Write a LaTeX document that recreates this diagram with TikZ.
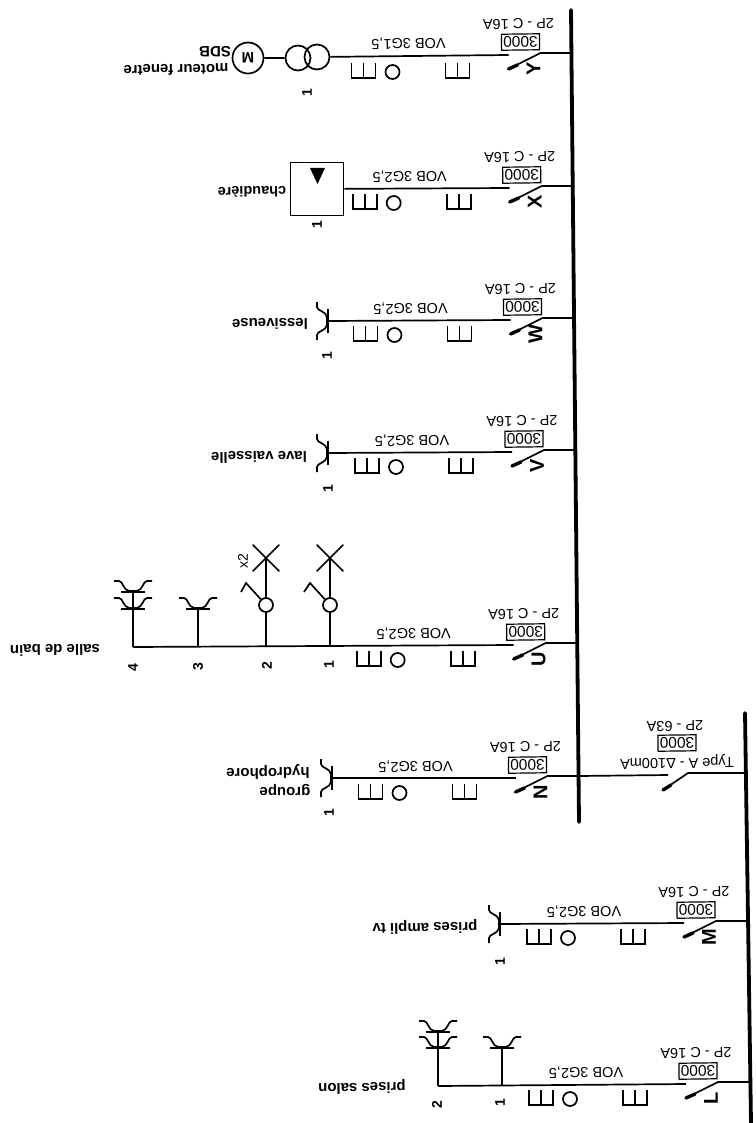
\documentclass[tikz,border=0pt]{standalone}
\usepackage{fontspec}
\setmainfont{Liberation Sans}
\usetikzlibrary{shapes,positioning,calc}

\tikzset{
    wire/.style={line width=1.7pt},
    flip/.style={rotate=180.7, inner sep=0pt, font=\fontsize{14.5}{16}\selectfont},
    loadlabel/.style={flip, font=\fontsize{15}{17}\selectfont\bfseries},
    tag/.style={rotate=90, inner sep=0pt, font=\fontsize{20}{22}\selectfont\bfseries},
    numlabel/.style={rotate=90, inner sep=0pt, font=\fontsize{14}{16}\selectfont\bfseries},
    ratebox/.style={flip, draw, line width=1.2pt, minimum width=38pt, minimum height=16pt, font=\fontsize{15.5}{17}\selectfont},
    socket/.pic={
        \draw [wire] (-19, -11) -- (-14, -11) .. controls (-10, -11) and (-10, -2) .. (-4, -1)
            -- (4, -1) .. controls (10, -2) and (10, -11) .. (14, -11) -- (19, -11);
        \draw [wire] (-12, 0) -- (12, 0);
    },
    comb/.pic={
        \draw [wire] (-12, -15) -- (-12, 0) -- (12, 0) -- (12, -15);
        \draw [wire] (0, -15) -- (0, 0);
    },
    lamp/.style={cross out, draw, wire, minimum size=25pt, inner sep=0pt},
    dimmer/.style={circle, draw, wire, minimum size=14pt, inner sep=0pt}
}

\begin{document}
\begin{tikzpicture}[x=1pt, y=-1pt]
    \useasboundingbox (0, 0) rectangle (755, 1123);

    % Main bars
    \coordinate (barAtop) at (571, 10);
    \coordinate (barAend) at (579, 822);
    \coordinate (barBtop) at (745, 713);
    \coordinate (barBend) at (751, 1123);
    \draw [line width=3.8pt, line cap=round] (barAtop) -- (barAend);
    \draw [line width=3.8pt, line cap=round] (barBtop) -- (barBend);

    % Ends of the feeders
    \node [circle, draw, wire, minimum size=25pt, inner sep=0pt] (endY) at (317, 57) {};
    \node [draw, wire, minimum size=53pt, inner sep=0pt] (endX) at (317, 189) {};
    \coordinate (endW) at (328, 321);
    \coordinate (endV) at (328, 453);
    \coordinate (endU) at (133, 647);
    \coordinate (endN) at (332, 778);
    \coordinate (endM) at (500, 924);
    \coordinate (endL) at (438, 1086);

    % Feeders
    \foreach \fd/\bx/\by/\dr/\cb in {Y/571.5/53/2/{VOB 3G1,5}, X/572.7/186/0/{VOB 3G2,5}, W/573.5/318/0/{VOB 3G2,5},
        V/575/450/0/{VOB 3G2,5}, U/576.7/643/0/{VOB 3G2,5}, N/578.5/776/0/{VOB 3G2,5},
        M/747/921/0/{VOB 3G2,5}, L/749/1082/0/{VOB 3G2,5}} {
        \coordinate (bus\fd) at (\bx, \by);
        \coordinate (pivot\fd) at (\bx-31, \by);
        \coordinate (tip\fd) at (\bx-63, \by+16);
        \coordinate (back\fd) at (\bx-54, \by+12);
        \coordinate (gap\fd) at (\bx-63, \by+2);
        \draw [wire] (bus\fd) -- (pivot\fd) -- (tip\fd);
        \draw [line width=3.4pt, line cap=round] (back\fd) -- (tip\fd);
        \draw [wire] (gap\fd) -- (end\fd);
        \node [flip] (rate\fd) at (\bx-53, \by-29) {2P - C 16A};
        \node [ratebox] (box\fd) at (\bx-51, \by-11) {3000};
        \node [flip] (cable\fd) at (\bx-163, \by-10) {\cb};
        \node [tag] (tag\fd) at (\bx-38, \by+16) {\fd};
        \node [dimmer] (mark\fd) at (\bx-179, \by+17+\dr) {};
        \pic at (\bx-114, \by+23+\dr) {comb};
        \pic at (\bx-208, \by+23+\dr) {comb};
    }

    % Moteur fenetre
    \node [circle, draw, wire, minimum size=25pt, inner sep=0pt] (trafoY) at (298, 58) {};
    \node [circle, draw, wire, minimum size=31pt, inner sep=0pt, loadlabel] (motorY) at (248, 58) {M};
    \draw [wire] (trafoY) -- (motorY);
    \node [loadlabel] (sdbY) at (215, 52) {SDB};
    \node [loadlabel] (nameY) at (176, 70) {moteur fenetre};
    \node [numlabel] (numY) at (307, 93) {1};

    % Chaudiere
    \coordinate (triA) at (310, 168);
    \coordinate (triB) at (325, 168);
    \coordinate (triC) at (317.5, 184);
    \fill (triA) -- (triB) -- (triC) -- cycle;
    \node [flip, font=\fontsize{14.5}{16}\selectfont\bfseries] (nameX) at (252, 192) {chaudière};
    \node [numlabel] (numX) at (317, 225) {1};

    % Single sockets
    \pic [rotate=90] at (endW) {socket};
    \pic [rotate=90] at (endV) {socket};
    \pic [rotate=90] at (endN) {socket};
    \pic [rotate=90] at (endM) {socket};
    \node [loadlabel] (nameW) at (270, 324) {lessiveuse};
    \node [numlabel] (numW) at (327, 356) {1};
    \node [loadlabel] (nameV) at (259, 457) {lave vaisselle};
    \node [numlabel] (numV) at (328, 489) {1};
    \node [loadlabel] (groupN) at (285, 790) {groupe};
    \node [loadlabel] (nameN) at (268, 772) {hydrophore};
    \node [numlabel] (numN) at (329, 813) {1};
    \node [loadlabel] (nameM) at (425, 927) {prises ampli tv};
    \node [numlabel] (numM) at (500, 962) {1};

    % Salle de bain
    \coordinate (tapUa) at (330, 646);
    \coordinate (tapUb) at (266, 646.5);
    \coordinate (tapUc) at (198, 647);
    \coordinate (baseUc) at (198, 609);
    \coordinate (baseUd) at (133, 592);
    \coordinate (lowUd) at (133, 609);
    \node [dimmer] (dimUa) at (330, 605) {};
    \node [dimmer] (dimUb) at (266, 605) {};
    \node [lamp] (lampUa) at (330, 558) {};
    \node [lamp] (lampUb) at (266, 558) {};
    \draw [wire] (tapUa) -- (dimUa) -- (lampUa.center);
    \draw [wire] (tapUb) -- (dimUb) -- (lampUb.center);
    \draw [wire] (dimUa) -- (310, 583) -- (304, 592);
    \draw [wire] (dimUb) -- (246, 583) -- (241, 592);
    \draw [wire] (tapUc) -- (baseUc);
    \draw [wire] (endU) -- (baseUd);
    \pic at (baseUc) {socket};
    \pic at (lowUd) {socket};
    \pic at (baseUd) {socket};
    \node [rotate=90, inner sep=0pt, font=\fontsize{14}{16}\selectfont] (twice) at (243, 561) {x2};
    \node [numlabel] (numUa) at (329, 665) {1};
    \node [numlabel] (numUb) at (267, 666) {2};
    \node [numlabel] (numUc) at (198, 667) {3};
    \node [numlabel] (numUd) at (133, 668) {4};
    \node [loadlabel] (nameU) at (55, 650) {salle de bain};

    % Prises salon
    \coordinate (tapLa) at (502, 1085);
    \coordinate (baseLa) at (502, 1048);
    \coordinate (baseLb) at (438, 1032);
    \coordinate (lowLb) at (438, 1048);
    \draw [wire] (tapLa) -- (baseLa);
    \draw [wire] (endL) -- (baseLb);
    \pic at (baseLa) {socket};
    \pic at (lowLb) {socket};
    \pic at (baseLb) {socket};
    \node [numlabel] (numLa) at (500, 1103) {1};
    \node [numlabel] (numLb) at (437, 1105) {2};
    \node [loadlabel] (nameL) at (362, 1087) {prises salon};

    % Tete de groupe
    \coordinate (busT) at (746, 773);
    \coordinate (pivotT) at (688, 773);
    \coordinate (tipT) at (663, 790);
    \coordinate (backT) at (671, 785);
    \coordinate (gapT) at (668, 775);
    \draw [wire] (busT) -- (pivotT) -- (tipT);
    \draw [line width=3.4pt, line cap=round] (backT) -- (tipT);
    \draw [wire] (gapT) -- (busN);
    \node [flip] (nameT) at (677, 762) {Type A - Δ100mA};
    \node [ratebox] (boxT) at (677, 743) {3000};
    \node [flip] (rateT) at (675, 726) {2P - 63A};
\end{tikzpicture}
\end{document}
